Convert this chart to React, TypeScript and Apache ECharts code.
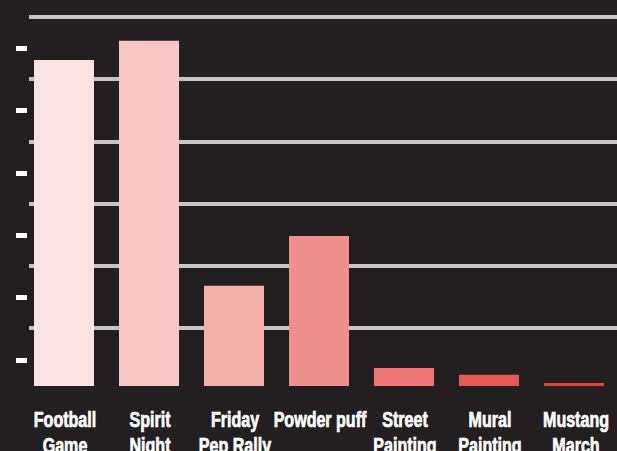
import React, { useEffect, useRef } from "react";
import * as echarts from "echarts";

const categories = [
  "Football\nGame",
  "Spirit\nNight",
  "Friday\nPep Rally",
  "Powder puff",
  "Street\nPainting",
  "Mural\nPainting",
  "Mustang\nMarch",
];
const values = [52.4, 55.5, 16.1, 24.1, 2.9, 1.8, 0.5];
const barColors = [
  "#fbe3e1",
  "#f6c7c4",
  "#f2aeab",
  "#ef908d",
  "#ed7773",
  "#e75b56",
  "#e2433f",
];

export default function App() {
  const ref = useRef<HTMLDivElement>(null);
  useEffect(() => {
    document.body.style.margin = "0";
    const chart = echarts.init(ref.current!, null, { renderer: "svg" });
    chart.setOption({
      animation: false,
      backgroundColor: "#231f20",
      grid: [
        { left: 21.5, right: 0.5, top: 17, bottom: 65, outerBoundsMode: "none" },
        { left: 29, right: 0, top: 17, bottom: 61, outerBoundsMode: "none" },
        { left: 16, width: 20, top: 48, bottom: 91, outerBoundsMode: "none" },
      ],
      xAxis: [
        {
          type: "category",
          gridIndex: 0,
          data: categories,
          axisLine: { show: false },
          axisTick: { show: false },
          axisLabel: { show: false },
        },
        { type: "value", gridIndex: 1, min: 0, max: 1, show: false },
        { type: "value", gridIndex: 2, min: 0, max: 1, show: false },
      ],
      yAxis: [
        {
          type: "value",
          gridIndex: 0,
          min: 0,
          max: 59.3,
          axisLine: { show: false },
          axisTick: { show: false },
          axisLabel: { show: false },
          splitLine: { show: false },
        },
        {
          type: "value",
          gridIndex: 1,
          min: 0,
          max: 60,
          interval: 10,
          axisLine: { show: false },
          axisTick: { show: false },
          axisLabel: { show: false },
          splitLine: {
            show: true,
            showMinLine: false,
            lineStyle: { color: "#c5c5c5", width: 4 },
          },
        },
        {
          type: "value",
          gridIndex: 2,
          min: 0,
          max: 5,
          interval: 1,
          axisLine: { show: false },
          axisLabel: { show: false },
          splitLine: { show: false },
          axisTick: {
            show: true,
            inside: true,
            length: 11,
            lineStyle: { color: "#ffffff", width: 5 },
          },
        },
      ],
      series: [
        {
          type: "bar",
          xAxisIndex: 0,
          yAxisIndex: 0,
          barWidth: 60,
          data: values.map((v, i) => ({ value: v, itemStyle: { color: barColors[i] } })),
        },
      ],
    });
    // category labels in a condensed look: positioned from the category axis
    const labelTop = 407;
    const graphics = categories.map((c, i) => {
      const cx = chart.convertToPixel({ xAxisIndex: 0 }, i) as number;
      return {
        type: "text",
        x: cx + (i === categories.length - 1 ? 2 : 1),
        y: labelTop,
        scaleX: 0.73,
        silent: true,
        style: {
          text: c,
          x: 0,
          y: 0,
          fill: "#ffffff",
          stroke: "#ffffff",
          lineWidth: 0.7,
          font: "bold 22px 'Liberation Sans', Arial, sans-serif",
          lineHeight: 26,
          align: "center",
          verticalAlign: "top",
        },
      };
    });
    chart.setOption({ graphic: graphics });
    return () => chart.dispose();
  }, []);
  return <div ref={ref} style={{ width: 617, height: 451 }} />;
}
